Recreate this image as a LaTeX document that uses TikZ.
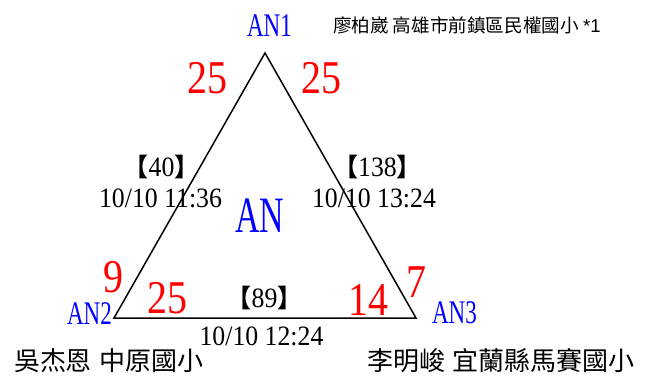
\documentclass[tikz,border=0pt]{standalone}
\usepackage{fontspec}
\setmainfont{Liberation Serif}
\newfontfamily\cjk{Noto Sans CJK TC}
\newfontfamily\anf[FakeStretch=0.7]{Liberation Serif}
\newfontfamily\bigan[FakeStretch=0.665]{Liberation Serif}
\newfontfamily\numf[FakeStretch=0.85]{Liberation Serif}
\newfontfamily\smf[FakeStretch=0.92]{Liberation Serif}
\newfontfamily\arialf{Liberation Sans}
\definecolor{anblue}{RGB}{0,0,255}
\definecolor{cntred}{RGB}{255,0,0}
\newcommand\lbk{{\cjk\bfseries\fontsize{25}{25}\selectfont 【}}
\newcommand\rbk{{\cjk\bfseries\fontsize{25}{25}\selectfont 】}}
\begin{document}
\begin{tikzpicture}[x=1pt,y=-1pt,
  every node/.style={inner sep=0pt, outer sep=0pt},
  vlabel/.style={text=anblue, font=\anf\fontsize{33}{33}\selectfont, anchor=base},
  centerlabel/.style={text=anblue, font=\bigan\fontsize{51}{51}\selectfont, anchor=base},
  cnt/.style={text=cntred, font=\numf\fontsize{47}{47}\selectfont, anchor=base},
  info/.style={text=black, font=\smf\fontsize{28}{28}\selectfont, anchor=base},
  person/.style={text=black, font=\cjk\fontsize{26}{26}\selectfont, anchor=base west},
  edge/.style={draw=black, line width=1.5pt, line join=miter}
]
\useasboundingbox (0,0) rectangle (657,376);
% vertices
\coordinate (v1) at (265,53);
\coordinate (v2) at (114,318);
\coordinate (v3) at (416,318);
\draw[edge] (v1) -- (v2) -- (v3) -- cycle;
% vertex labels
\node[vlabel] (an1) at (269.5,36) {AN1};
\node[vlabel] (an2) at (89.5,324) {AN2};
\node[vlabel] (an3) at (454.5,323) {AN3};
\node[centerlabel] (an) at (259.5,232) {AN};
% counts
\node[cnt] (c1l) at (207,93) {25};
\node[cnt] (c1r) at (321,93) {25};
\node[cnt] (c2t) at (113,292) {9};
\node[cnt] (c2r) at (167.5,313) {25};
\node[cnt] (c3l) at (368,315) {14};
\node[cnt] (c3t) at (416,297) {7};
% edge infos
\node[info] (e12n) at (161.5,176) {\lbk40\rbk};
\node[info] (e12t) at (160.5,207) {10/10 11:36};
\node[info] (e13n) at (377.5,176) {\lbk138\rbk};
\node[info] (e13t) at (374,207) {10/10 13:24};
\node[info] (e23n) at (264.5,307) {\lbk89\rbk};
\node[info] (e23t) at (261.5,345) {10/10 12:24};
% people
\node[person, font=\cjk\fontsize{18.6}{18.6}\selectfont] (p1) at (333,32) {廖柏崴 高雄市前鎮區民權國小 {\arialf *1}};
\node[person] (p2) at (14,370) {吳杰恩\hspace{0.3em}中原國小};
\node[person] (p3) at (367,370) {李明峻\hspace{0.3em}宜蘭縣馬賽國小};
\end{tikzpicture}
\end{document}
